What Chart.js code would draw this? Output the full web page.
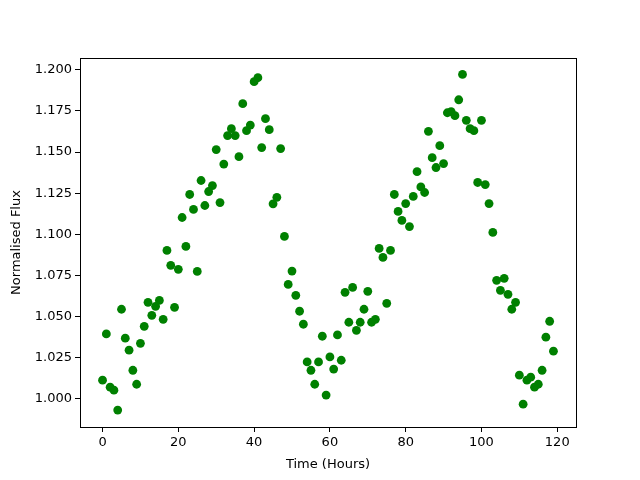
<!DOCTYPE html>
<html><head><meta charset="utf-8">
<script src="https://cdn.jsdelivr.net/npm/chart.js@4/dist/chart.umd.min.js"></script>
<style>html,body{margin:0;padding:0;background:#fff}#wrap{width:640px;height:480px}</style>
</head><body><div id="wrap"><canvas id="c" width="640" height="480"></canvas></div>
<script>
const hours = Array.from({length:120},(_,i)=>i);
const flux = [
1.0113,1.0394,1.0070,1.0052,0.9931,1.0544,1.0368,1.0295,1.0173,1.0088,
1.0337,1.0440,1.0586,1.0507,1.0562,1.0598,1.0483,1.0902,1.0811,1.0556,
1.0787,1.1102,1.0926,1.1242,1.1151,1.0774,1.1327,1.1175,1.1260,1.1296,
1.1515,1.1193,1.1427,1.1600,1.1642,1.1600,1.1472,1.1794,1.1630,1.1664,
1.1928,1.1952,1.1527,1.1703,1.1636,1.1185,1.1225,1.1521,1.0987,1.0695,
1.0776,1.0629,1.0532,1.0453,1.0224,1.0173,1.0088,1.0224,1.0380,1.0022,
1.0254,1.0180,1.0388,1.0234,1.0647,1.0465,1.0677,1.0416,1.0465,1.0544,
1.0653,1.0465,1.0483,1.0914,1.0859,1.0580,1.0902,1.1242,1.1139,1.1084,
1.1187,1.1047,1.1230,1.1381,1.1288,1.1254,1.1626,1.1466,1.1406,1.1539,
1.1430,1.1739,1.1746,1.1721,1.1818,1.1972,1.1693,1.1642,1.1630,1.1315,
1.1693,1.1302,1.1187,1.1011,1.0720,1.0659,1.0732,1.0635,1.0544,1.0586,
1.0143,0.9967,1.0113,1.0131,1.0070,1.0088,1.0173,1.0374,1.0471,1.0289
];
const xTicks = [0,20,40,60,80,100,120];
const yTicks = [1.000,1.025,1.050,1.075,1.100,1.125,1.150,1.175,1.200];

Chart.defaults.color = '#000';
Chart.defaults.font.family = 'DejaVu Sans';
Chart.defaults.font.size = 13;

const frame = {
  id:'frame',
  afterDraw(chart){
    const a = chart.chartArea, ctx = chart.ctx;
    ctx.save(); ctx.strokeStyle='#000'; ctx.lineWidth=1;
    ctx.strokeRect(Math.round(a.left)+0.5, Math.round(a.top)+0.5, Math.round(a.right-a.left), Math.round(a.bottom-a.top));
    ctx.restore();
  }
};

new Chart(document.getElementById('c'), {
  type:'scatter',
  data:{ datasets:[{ data: hours.map((h,i)=>({x:h,y:flux[i]})), backgroundColor:'#008000', borderColor:'#008000', pointRadius:4.4, borderWidth:0 }]},
  options:{
    responsive:false, animation:false, devicePixelRatio:1,
    layout:{padding:{left:0,top:58,right:64,bottom:0}},
    plugins:{legend:{display:false}, tooltip:{enabled:false}},
    scales:{
      x:{ type:'linear', min:-5.95, max:124.95,
        afterBuildTicks(s){ s.ticks = xTicks.map(v=>({value:v})); },
        afterFit(s){ s.height = 53; },
        grid:{ drawOnChartArea:false, color:'#000', tickLength:5, tickWidth:1 },
        border:{ display:false },
        ticks:{ padding:3, maxRotation:0, autoSkip:false, callback:v=>String(v) },
        title:{ display:true, text:'Time (Hours)', padding:{top:2,bottom:8} } },
      y:{ type:'linear', min:0.9828, max:1.2072,
        afterBuildTicks(s){ s.ticks = yTicks.map(v=>({value:v})); },
        afterFit(s){ s.width = 80; },
        grid:{ drawOnChartArea:false, color:'#000', tickLength:5, tickWidth:1 },
        border:{ display:false },
        ticks:{ padding:3, autoSkip:false, callback:v=>Number(v).toFixed(3) },
        title:{ display:true, text:'Normalised Flux', padding:{top:9,bottom:0} } }
    }
  },
  plugins:[frame]
});
</script></body></html>
